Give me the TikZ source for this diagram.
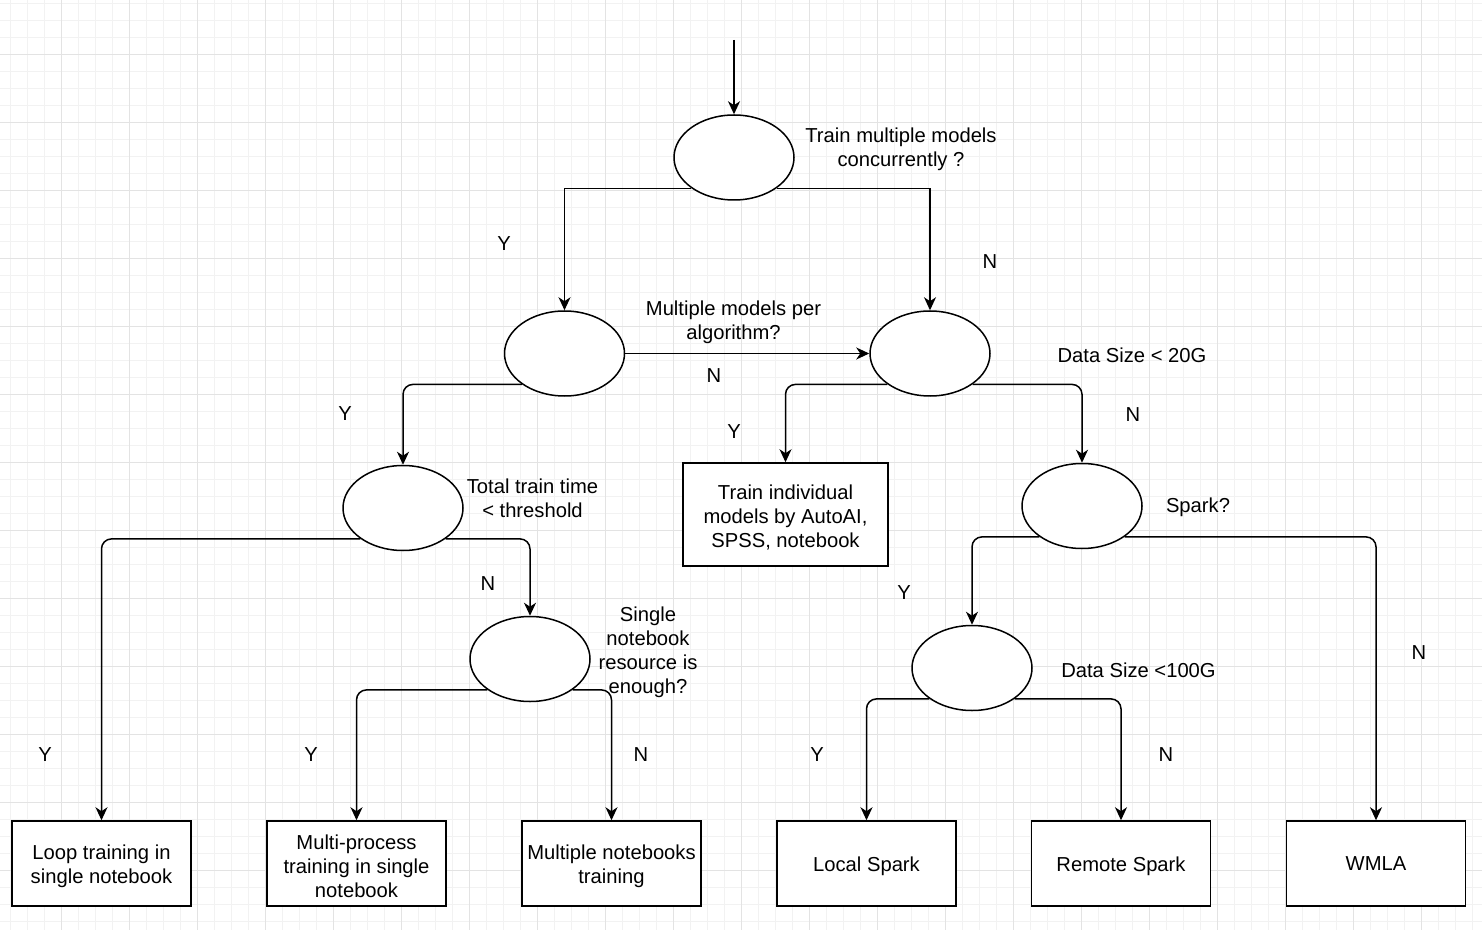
\documentclass[tikz,border=0pt]{standalone}
\usepackage{fontspec}
\setmainfont{Liberation Sans}
\usetikzlibrary{arrows.meta,shapes.geometric}
\definecolor{gminor}{HTML}{F2F2F2}
\definecolor{gmajor}{HTML}{E3E3E3}
\newcommand{\upstrut}{\rule{0pt}{10.4pt}}
\begin{document}
\begin{tikzpicture}[x=0.5pt,y=-0.5pt,
  dec/.style={ellipse,draw,line width=0.75pt,fill=white,minimum width=60pt,minimum height=42.5pt,inner sep=0pt},
  res/.style={rectangle,draw,line width=0.75pt,fill=white,minimum width=89.5pt,minimum height=42.5pt,align=center,inner sep=1pt},
  lbl/.style={align=center,inner sep=0pt},
  arr/.style={-{Stealth[length=6.5pt,width=6pt,inset=2pt]},line width=0.75pt},
  rarr/.style={arr,rounded corners=5pt},
  minorgrid/.style={draw=gminor,line width=0.5pt},
  majorgrid/.style={draw=gmajor,line width=0.5pt},
  font=\fontsize{10.1}{12}\selectfont]
\useasboundingbox (0,0) rectangle (1482,930);
\fill[white] (0,0) rectangle (1482,930);
% grid
\foreach \gx in {10,27,...,1482} \draw[minorgrid] (\gx,0) -- (\gx,930);
\foreach \gy in {3.3,20.3,...,930} \draw[minorgrid] (0,\gy) -- (1482,\gy);
\foreach \gx in {61,129,...,1482} \draw[majorgrid] (\gx,0) -- (\gx,930);
\foreach \gy in {54.3,122.3,...,930} \draw[majorgrid] (0,\gy) -- (1482,\gy);

% decision ellipses
\node[dec] (e1) at (734,157.5) {};
\node[dec] (e2) at (564.5,353.5) {};
\node[dec] (e3) at (930,353.5) {};
\node[dec] (e4) at (403,508) {};
\node[dec] (e5) at (1082,506) {};
\node[dec] (e6) at (530,659) {};
\node[dec] (e7) at (972,668) {};

% result boxes
\node[res,minimum width=102.5pt,minimum height=51.5pt] (t) at (785.5,514.5) {\upstrut Train individual\\models by AutoAI,\\SPSS, notebook};
\node[res] (b1) at (101.5,863.5) {\upstrut Loop training in\\single notebook};
\node[res] (b2) at (356.5,863.5) {\upstrut Multi-process\\training in single\\notebook};
\node[res] (b3) at (611.5,863.5) {\upstrut Multiple notebooks\\training};
\node[res] (b4) at (866.5,863.5) {\upstrut Local Spark};
\node[res] (b5) at (1121,863.5) {\upstrut Remote Spark};
\node[res] (b6) at (1376,863.5) {WMLA};

% connectors
\coordinate (s) at (734,40);
\draw[arr] (s) -- (e1.north);
\draw[arr] (e1.216) -| (e2.north);
\draw[arr] (e1.324) -| (e3.north);
\draw[arr] (e2.east) -- (e3.west);
\draw[rarr] (e2.216) -| (e4.north);
\draw[rarr] (e3.216) -| (t.north);
\draw[rarr] (e3.324) -| (e5.north);
\draw[rarr] (e4.216) -| (b1.north);
\draw[rarr] (e4.324) -| (e6.north);
\draw[rarr] (e6.216) -| (b2.north);
\draw[rarr] (e6.324) -| (b3.north);
\draw[rarr] (e5.216) -| (e7.north);
\draw[rarr] (e5.324) -| (b6.north);
\draw[rarr] (e7.216) -| (b4.north);
\draw[rarr] (e7.324) -| (b5.north);

% question labels
\node[lbl] (q1) at (901,149) {Train multiple models\\concurrently ?};
\node[lbl] (q2) at (733.5,322) {Multiple models per\\algorithm?};
\node[lbl] (q3) at (1132,355) {Data Size {<} 20G};
\node[lbl] (q4) at (532.5,498) {Total train time\\{<} threshold};
\node[lbl] (q5) at (1198,507) {Spark?};
\node[lbl] (q6) at (648,652) {Single\\notebook\\resource is\\enough?};
\node[lbl] (q7) at (1138.5,670) {Data Size {<}100G};

% branch labels
\node[lbl] (l1) at (504,244) {Y};
\node[lbl] (l2) at (990,262) {N};
\node[lbl] (l3) at (714,376) {N};
\node[lbl] (l4) at (345,414) {Y};
\node[lbl] (l5) at (734,432) {Y};
\node[lbl] (l6) at (1133,415) {N};
\node[lbl] (l7) at (488,584) {N};
\node[lbl] (l8) at (904,593) {Y};
\node[lbl] (l9) at (1419,653) {N};
\node[lbl] (l10) at (45,755) {Y};
\node[lbl] (l11) at (311,755) {Y};
\node[lbl] (l12) at (641,755) {N};
\node[lbl] (l13) at (817,755) {Y};
\node[lbl] (l14) at (1166,755) {N};
\end{tikzpicture}
\end{document}
